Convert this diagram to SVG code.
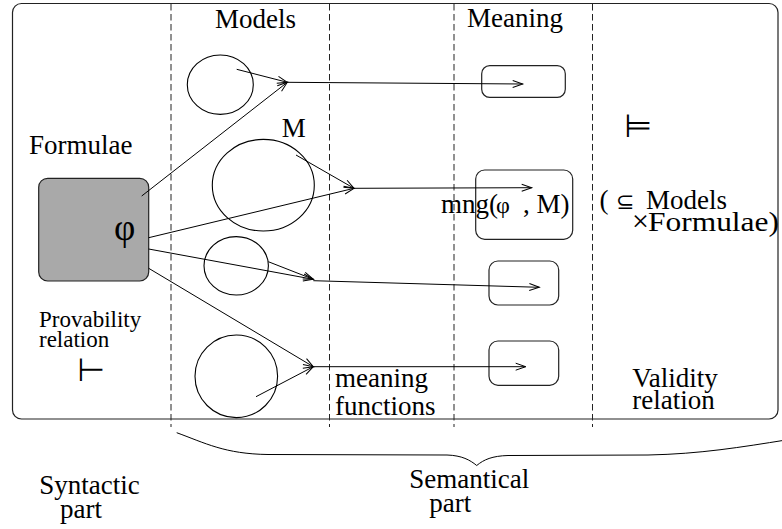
<svg xmlns="http://www.w3.org/2000/svg" width="782" height="529" viewBox="0 0 782 529">
  <style>
    .frame { fill: none; stroke: #222; stroke-width: 1.2; }
    .divider { fill: none; stroke: #222; stroke-width: 1; stroke-dasharray: 6.5 3.5; }
    .model { fill: none; stroke: #000; stroke-width: 1.1; }
    .box { fill: none; stroke: #222; stroke-width: 1.2; }
    .formula { fill: #a9a9a9; stroke: #222; stroke-width: 1.2; }
    .edge { fill: none; stroke: #000; stroke-width: 1; }
    .arrow { fill: none; stroke: #000; stroke-width: 1; marker-end: url(#stick); }
    .lbl { font-family: "Liberation Serif", "Times New Roman", serif; font-size: 27px; fill: #000; }
    .small { font-size: 23px; }
    .sym { font-family: "DejaVu Sans", sans-serif; fill: #000; }
  </style>
  <defs>
    <marker id="stick" markerWidth="13" markerHeight="9" refX="11" refY="4.5" orient="auto" markerUnits="userSpaceOnUse">
      <path d="M1,1 L11,4.5 L1,8" fill="none" stroke="#000" stroke-width="1"/>
    </marker>
  </defs>

  <rect id="white-bg" x="0" y="0" width="782" height="529" fill="#fff"/>

  <!-- outer frame and column dividers -->
  <g id="frame">
    <rect class="frame" x="12.5" y="3.5" width="765.5" height="415.5" rx="9"/>
    <line class="divider" x1="171" y1="4" x2="171" y2="427"/>
    <line class="divider" x1="329.5" y1="4" x2="329.5" y2="427"/>
    <line class="divider" x1="454" y1="4" x2="454" y2="427"/>
    <line class="divider" x1="592.5" y1="4" x2="592.5" y2="427"/>
  </g>

  <!-- column headings -->
  <g id="headings">
    <text class="lbl" x="215" y="28">Models</text>
    <text class="lbl" x="467" y="27">Meaning</text>
    <text class="lbl" x="29" y="154">Formulae</text>
  </g>

  <!-- syntactic side -->
  <g id="formulae-box">
    <rect class="formula" x="38.7" y="178.3" width="110" height="102.7" rx="9"/>
    <text class="lbl" x="114" y="240" style="font-size:37px">φ</text>
  </g>
  <g id="provability">
    <text class="lbl small" x="39" y="327">Provability</text>
    <text class="lbl small" x="39" y="346.5">relation</text>
    <text class="sym" x="77" y="381" style="font-size:32px">⊢</text>
  </g>

  <!-- models -->
  <g id="model-1"><ellipse class="model" cx="220.3" cy="84.7" rx="33" ry="29.7"/></g>
  <g id="model-M">
    <ellipse class="model" cx="263.3" cy="185.2" rx="51" ry="45.8"/>
    <text class="lbl" x="281.7" y="136.7">M</text>
  </g>
  <g id="model-3"><ellipse class="model" cx="236.2" cy="265.8" rx="32.2" ry="29.2"/></g>
  <g id="model-4"><ellipse class="model" cx="236.3" cy="376.3" rx="41.3" ry="41.3"/></g>

  <!-- meanings -->
  <g id="meaning-1"><rect class="box" x="481.7" y="65.7" width="83.6" height="31.6" rx="8"/></g>
  <g id="meaning-2">
    <rect class="box" x="475.7" y="170" width="97" height="69.3" rx="9"/>
    <text class="lbl" y="213.3"><tspan x="441">mng(</tspan><tspan x="496" style="font-size:24px">φ</tspan><tspan x="523">, M)</tspan></text>
  </g>
  <g id="meaning-3"><rect class="box" x="489" y="261" width="69.7" height="44" rx="9"/></g>
  <g id="meaning-4"><rect class="box" x="489" y="341" width="69.7" height="44.3" rx="9"/></g>

  <!-- validity relation -->
  <g id="validity">
    <text class="sym" x="624" y="137" style="font-size:32px">⊨</text>
    <text class="lbl" x="599.5" y="208.5">(</text>
    <text class="sym" x="616" y="208.5" style="font-size:22px">⊆</text>
    <text class="lbl" x="646" y="208.5">Models</text>
    <text class="lbl" x="632" y="231" style="font-size:30px">×</text>
    <text class="lbl" x="648" y="231" textLength="131" lengthAdjust="spacingAndGlyphs">Formulae)</text>
    <text class="lbl" x="632.3" y="387">Validity</text>
    <text class="lbl" x="632.3" y="409">relation</text>
  </g>

  <g id="meaning-functions-label">
    <text class="lbl" x="335" y="386.7">meaning</text>
    <text class="lbl" x="335" y="415">functions</text>
  </g>

  <!-- connectors -->
  <g id="connectors">
    <!-- formula to each model/formula pair -->
    <line class="arrow" x1="141.7" y1="196" x2="287.3" y2="82.3"/>
    <line class="arrow" x1="148.7" y1="237.7" x2="354" y2="188.3"/>
    <line class="arrow" x1="148.7" y1="249" x2="313.3" y2="279.3"/>
    <line class="arrow" x1="148.7" y1="268.3" x2="313.3" y2="366.7"/>
    <!-- model to each pair -->
    <line class="arrow" x1="236.7" y1="69.3" x2="287.3" y2="82.3"/>
    <line class="arrow" x1="296" y1="155" x2="354" y2="188.3"/>
    <line class="arrow" x1="268.3" y1="261.7" x2="313.3" y2="279.3"/>
    <line class="arrow" x1="256" y1="396.7" x2="313.3" y2="366.7"/>
    <!-- meaning functions -->
    <line class="arrow" x1="287.3" y1="82.3" x2="522.7" y2="84"/>
    <line class="arrow" x1="354" y1="188.3" x2="531.7" y2="187.7"/>
    <line class="arrow" x1="313.3" y1="280.7" x2="539.3" y2="287.3"/>
    <line class="arrow" x1="313.3" y1="366.7" x2="525.7" y2="366.7"/>
  </g>

  <!-- brace under the semantic columns -->
  <g id="brace">
    <path class="edge" d="M176.7,432.7 C205,443 225,454 268,454.5 L447,455 C462,455.5 470,460 476.7,465.5 C484,459.5 492,456 508,455.5 L648,455 C700,454 742,447 786,440"/>
  </g>

  <g id="part-labels">
    <text class="lbl" x="39.3" y="494">Syntactic</text>
    <text class="lbl" x="60" y="518">part</text>
    <text class="lbl" x="409.3" y="488.3">Semantical</text>
    <text class="lbl" x="429.3" y="512">part</text>
  </g>
</svg>
